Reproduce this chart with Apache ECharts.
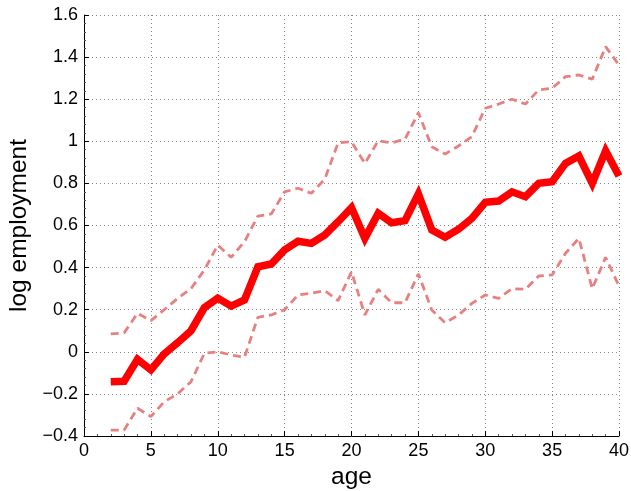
<!DOCTYPE html>
<html>
<head>
<meta charset="utf-8">
<script src="https://cdn.jsdelivr.net/npm/echarts@6/dist/echarts.min.js"></script>
<style>html,body{margin:0;padding:0;background:#fff}#c{width:631px;height:491px}</style>
</head>
<body>
<div id="c"></div>
<script>
var ages = [2,3,4,5,6,7,8,9,10,11,12,13,14,15,16,17,18,19,20,21,22,23,24,25,26,27,28,29,30,31,32,33,34,35,36,37,38,39,40];
var estimate = [-0.142,-0.14,-0.036,-0.086,-0.01,0.043,0.10,0.21,0.255,0.217,0.246,0.404,0.417,0.484,0.525,0.515,0.555,0.618,0.685,0.539,0.658,0.613,0.623,0.75,0.579,0.544,0.582,0.634,0.71,0.716,0.76,0.737,0.80,0.808,0.895,0.93,0.80,0.955,0.835];
var upper = [0.085,0.09,0.183,0.148,0.2,0.254,0.30,0.389,0.507,0.449,0.523,0.645,0.655,0.76,0.777,0.753,0.82,0.993,0.998,0.895,1.003,0.993,1.01,1.136,0.974,0.94,0.978,1.022,1.157,1.177,1.2,1.177,1.244,1.252,1.307,1.315,1.295,1.45,1.362];
var lower = [-0.372,-0.372,-0.268,-0.308,-0.237,-0.20,-0.142,-0.007,0.0,-0.015,-0.026,0.164,0.175,0.2,0.27,0.278,0.29,0.243,0.38,0.175,0.297,0.233,0.233,0.37,0.199,0.138,0.175,0.23,0.27,0.254,0.30,0.297,0.36,0.365,0.468,0.539,0.30,0.449,0.313];
var xTicks = [0,5,10,15,20,25,30,35,40];
var yTicks = [-0.4,-0.2,0,0.2,0.4,0.6,0.8,1,1.2,1.4,1.6];

function pairs(v){ return ages.map(function(a,i){ return [a, v[i]]; }); }
function fmtY(v){
  var r = Math.round(v*10)/10;
  if (Math.abs(r) < 1e-9) return '0';
  var s = (Math.abs(r) === 1) ? '1' : String(Math.abs(r));
  return (r < 0 ? '\u2212' : '') + s;
}
var font = 'Liberation Sans, Arial, Helvetica, sans-serif';
var chart = echarts.init(document.getElementById('c'), null, {renderer:'canvas'});
chart.setOption({
  animation:false,
  backgroundColor:'#fff',
  grid:{left:84, right:12, top:15, bottom:55, containLabel:false, outerBoundsMode:'none'},
  xAxis:{
    type:'value', min:xTicks[0], max:xTicks[xTicks.length-1], interval:5,
    name:'age', nameLocation:'middle', nameGap:26,
    nameTextStyle:{fontFamily:font, fontSize:24.5, color:'#000'},
    axisLine:{show:true, onZero:false, lineStyle:{color:'#000', width:1}},
    axisTick:{show:true, inside:true, length:5, lineStyle:{color:'#000'}},
    minorTick:{show:true, splitNumber:5, length:2, lineStyle:{color:'#555'}},
    axisLabel:{fontFamily:font, fontSize:18, color:'#000', margin:6},
    splitLine:{show:true, lineStyle:{color:'#888', type:[1,3], width:1}}
  },
  yAxis:{
    type:'value', min:yTicks[0], max:yTicks[yTicks.length-1], interval:0.2,
    name:'log employment', nameLocation:'middle', nameGap:42, nameRotate:90,
    nameTextStyle:{fontFamily:font, fontSize:24.5, color:'#000'},
    axisLine:{show:true, onZero:false, lineStyle:{color:'#000', width:1}},
    axisTick:{show:true, inside:true, length:5, lineStyle:{color:'#000'}},
    minorTick:{show:true, splitNumber:5, length:2, lineStyle:{color:'#555'}},
    axisLabel:{fontFamily:font, fontSize:18, color:'#000', margin:6, formatter:fmtY},
    splitLine:{show:true, lineStyle:{color:'#888', type:[1,3], width:1}}
  },
  series:[
    {type:'line', data:pairs(upper), symbol:'none', z:2,
     lineStyle:{color:'#e88080', width:2.8, type:[8,5]}},
    {type:'line', data:pairs(lower), symbol:'none', z:2,
     lineStyle:{color:'#e88080', width:2.8, type:[8,5]}},
    {type:'line', data:pairs(estimate), symbol:'none', z:3,
     lineStyle:{color:'#ff0000', width:7.5, join:'miter'}}
  ]
});
</script>
</body>
</html>
